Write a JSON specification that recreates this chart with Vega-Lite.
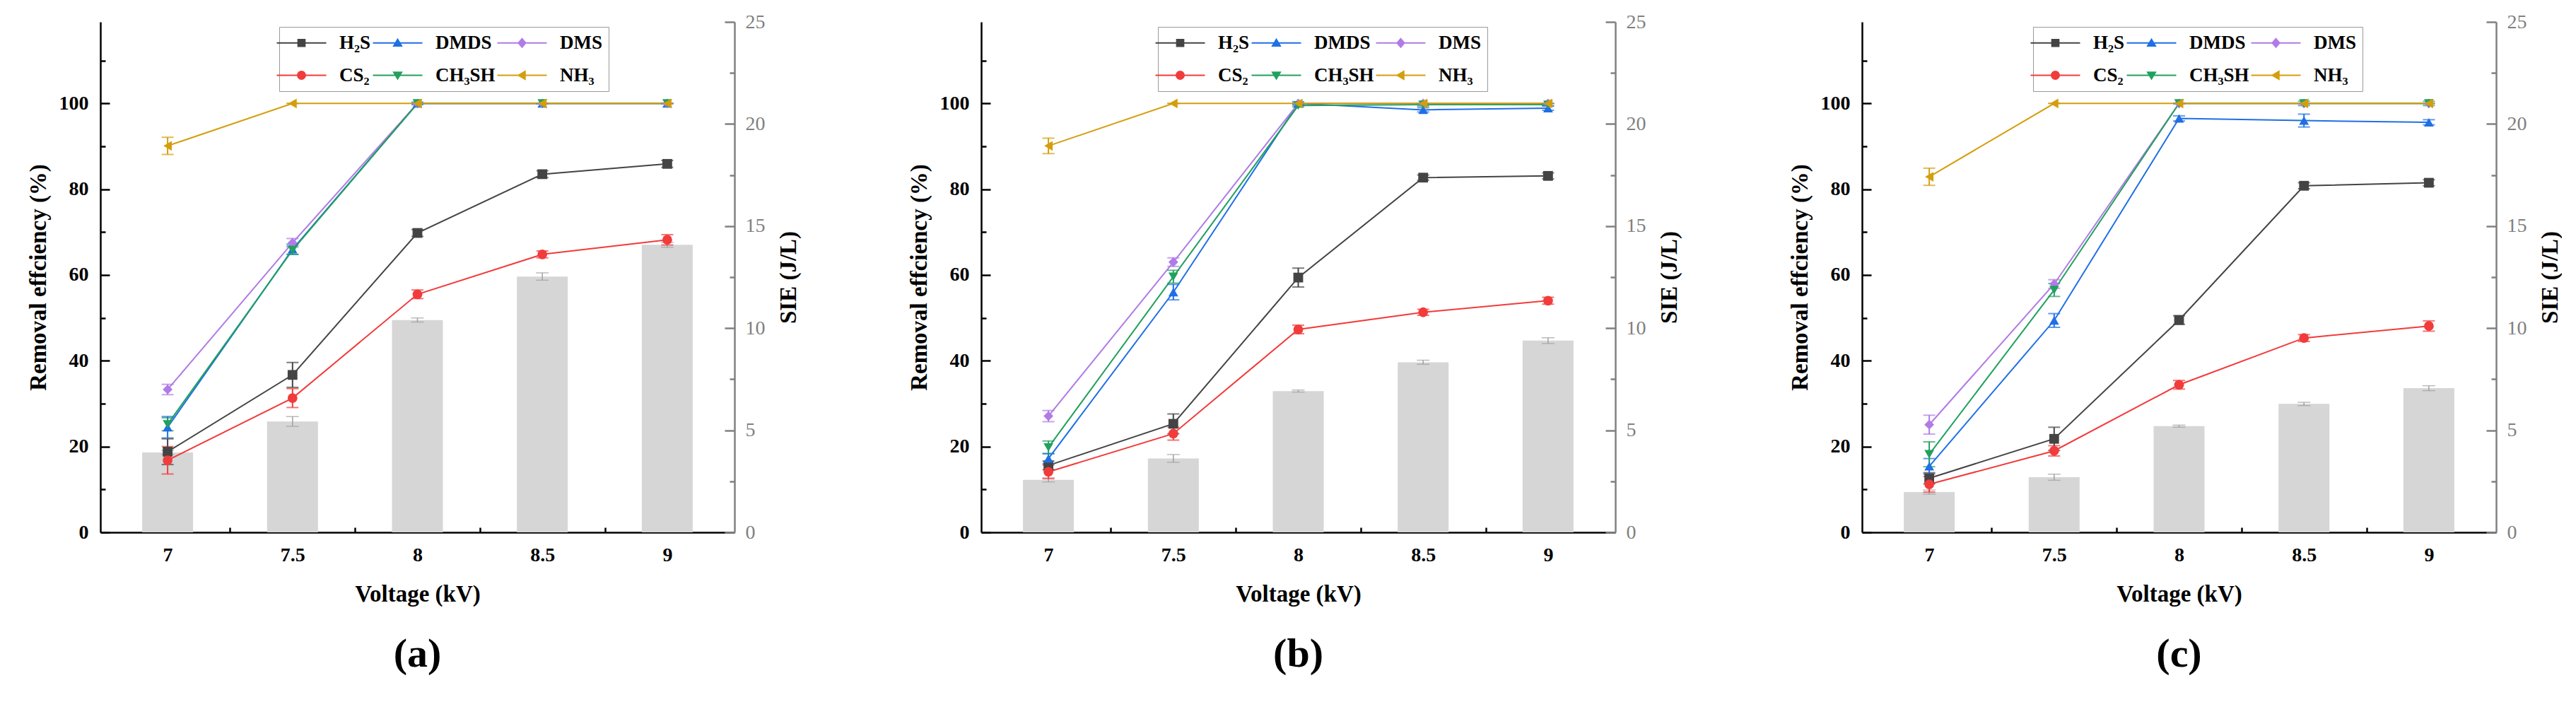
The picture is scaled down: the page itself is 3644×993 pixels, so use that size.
{
  "$schema": "https://vega.github.io/schema/vega-lite/v6.json",
  "background": "white",
  "padding": {"left": 38, "top": 17, "right": 0, "bottom": 0},
  "spacing": 152,
  "config": {
    "font": "Liberation Serif",
    "view": {"stroke": null},
    "axis": {"grid": false, "labelFont": "Liberation Serif", "titleFont": "Liberation Serif"},
    "style": {"guide-label": {"font": "Liberation Serif"}, "guide-title": {"font": "Liberation Serif"}}
  },
  "datasets": {
    "eff": [
      {"panel": "a", "series": "H₂S", "voltage": 7, "eff": 18.8, "err": 3.0},
      {"panel": "a", "series": "H₂S", "voltage": 7.5, "eff": 36.7, "err": 2.9},
      {"panel": "a", "series": "H₂S", "voltage": 8, "eff": 69.8, "err": 0.8},
      {"panel": "a", "series": "H₂S", "voltage": 8.5, "eff": 83.5, "err": 0.8},
      {"panel": "a", "series": "H₂S", "voltage": 9, "eff": 85.9, "err": 0.8},
      {"panel": "a", "series": "DMDS", "voltage": 7, "eff": 24.5, "err": 2.5},
      {"panel": "a", "series": "DMDS", "voltage": 7.5, "eff": 66.0, "err": 1.2},
      {"panel": "a", "series": "DMDS", "voltage": 8, "eff": 100, "err": 0.3},
      {"panel": "a", "series": "DMDS", "voltage": 8.5, "eff": 100, "err": 0},
      {"panel": "a", "series": "DMDS", "voltage": 9, "eff": 100, "err": 0},
      {"panel": "a", "series": "DMS", "voltage": 7, "eff": 33.3, "err": 1.2},
      {"panel": "a", "series": "DMS", "voltage": 7.5, "eff": 67.5, "err": 1.0},
      {"panel": "a", "series": "DMS", "voltage": 8, "eff": 100, "err": 0},
      {"panel": "a", "series": "DMS", "voltage": 8.5, "eff": 100, "err": 0},
      {"panel": "a", "series": "DMS", "voltage": 9, "eff": 100, "err": 0},
      {"panel": "a", "series": "CS₂", "voltage": 7, "eff": 16.8, "err": 3.2},
      {"panel": "a", "series": "CS₂", "voltage": 7.5, "eff": 31.3, "err": 2.2},
      {"panel": "a", "series": "CS₂", "voltage": 8, "eff": 55.5, "err": 1.0},
      {"panel": "a", "series": "CS₂", "voltage": 8.5, "eff": 64.8, "err": 0.8},
      {"panel": "a", "series": "CS₂", "voltage": 9, "eff": 68.2, "err": 1.2},
      {"panel": "a", "series": "CH₃SH", "voltage": 7, "eff": 25.2, "err": 1.5},
      {"panel": "a", "series": "CH₃SH", "voltage": 7.5, "eff": 65.8, "err": 1.0},
      {"panel": "a", "series": "CH₃SH", "voltage": 8, "eff": 100, "err": 0},
      {"panel": "a", "series": "CH₃SH", "voltage": 8.5, "eff": 100, "err": 0},
      {"panel": "a", "series": "CH₃SH", "voltage": 9, "eff": 100, "err": 0},
      {"panel": "a", "series": "NH₃", "voltage": 7, "eff": 90.1, "err": 2.0},
      {"panel": "a", "series": "NH₃", "voltage": 7.5, "eff": 100, "err": 0},
      {"panel": "a", "series": "NH₃", "voltage": 8, "eff": 100, "err": 0},
      {"panel": "a", "series": "NH₃", "voltage": 8.5, "eff": 100, "err": 0},
      {"panel": "a", "series": "NH₃", "voltage": 9, "eff": 100, "err": 0},

      {"panel": "b", "series": "H₂S", "voltage": 7, "eff": 15.6, "err": 1.0},
      {"panel": "b", "series": "H₂S", "voltage": 7.5, "eff": 25.3, "err": 2.3},
      {"panel": "b", "series": "H₂S", "voltage": 8, "eff": 59.4, "err": 2.2},
      {"panel": "b", "series": "H₂S", "voltage": 8.5, "eff": 82.7, "err": 0.6},
      {"panel": "b", "series": "H₂S", "voltage": 9, "eff": 83.1, "err": 0.7},
      {"panel": "b", "series": "DMDS", "voltage": 7, "eff": 17.2, "err": 1.2},
      {"panel": "b", "series": "DMDS", "voltage": 7.5, "eff": 56.0, "err": 1.8},
      {"panel": "b", "series": "DMDS", "voltage": 8, "eff": 100, "err": 0.4},
      {"panel": "b", "series": "DMDS", "voltage": 8.5, "eff": 98.5, "err": 0.5},
      {"panel": "b", "series": "DMDS", "voltage": 9, "eff": 98.9, "err": 0.5},
      {"panel": "b", "series": "DMS", "voltage": 7, "eff": 27.1, "err": 1.3},
      {"panel": "b", "series": "DMS", "voltage": 7.5, "eff": 63.0, "err": 1.0},
      {"panel": "b", "series": "DMS", "voltage": 8, "eff": 100, "err": 0},
      {"panel": "b", "series": "DMS", "voltage": 8.5, "eff": 100, "err": 0},
      {"panel": "b", "series": "DMS", "voltage": 9, "eff": 100, "err": 0},
      {"panel": "b", "series": "CS₂", "voltage": 7, "eff": 14.1, "err": 1.6},
      {"panel": "b", "series": "CS₂", "voltage": 7.5, "eff": 23.0, "err": 1.5},
      {"panel": "b", "series": "CS₂", "voltage": 8, "eff": 47.3, "err": 1.0},
      {"panel": "b", "series": "CS₂", "voltage": 8.5, "eff": 51.3, "err": 0.7},
      {"panel": "b", "series": "CS₂", "voltage": 9, "eff": 54.0, "err": 0.8},
      {"panel": "b", "series": "CH₃SH", "voltage": 7, "eff": 19.8, "err": 1.5},
      {"panel": "b", "series": "CH₃SH", "voltage": 7.5, "eff": 59.6, "err": 1.5},
      {"panel": "b", "series": "CH₃SH", "voltage": 8, "eff": 99.5, "err": 0.3},
      {"panel": "b", "series": "CH₃SH", "voltage": 8.5, "eff": 99.7, "err": 0.3},
      {"panel": "b", "series": "CH₃SH", "voltage": 9, "eff": 99.7, "err": 0.3},
      {"panel": "b", "series": "NH₃", "voltage": 7, "eff": 90.1, "err": 1.8},
      {"panel": "b", "series": "NH₃", "voltage": 7.5, "eff": 100, "err": 0},
      {"panel": "b", "series": "NH₃", "voltage": 8, "eff": 100, "err": 0},
      {"panel": "b", "series": "NH₃", "voltage": 8.5, "eff": 100, "err": 0},
      {"panel": "b", "series": "NH₃", "voltage": 9, "eff": 100, "err": 0},

      {"panel": "c", "series": "H₂S", "voltage": 7, "eff": 12.6, "err": 1.3},
      {"panel": "c", "series": "H₂S", "voltage": 7.5, "eff": 21.8, "err": 2.7},
      {"panel": "c", "series": "H₂S", "voltage": 8, "eff": 49.5, "err": 1.0},
      {"panel": "c", "series": "H₂S", "voltage": 8.5, "eff": 80.8, "err": 0.7},
      {"panel": "c", "series": "H₂S", "voltage": 9, "eff": 81.5, "err": 0.7},
      {"panel": "c", "series": "DMDS", "voltage": 7, "eff": 15.4, "err": 1.8},
      {"panel": "c", "series": "DMDS", "voltage": 7.5, "eff": 49.4, "err": 1.6},
      {"panel": "c", "series": "DMDS", "voltage": 8, "eff": 96.5, "err": 0.6},
      {"panel": "c", "series": "DMDS", "voltage": 8.5, "eff": 96.0, "err": 1.5},
      {"panel": "c", "series": "DMDS", "voltage": 9, "eff": 95.6, "err": 0.6},
      {"panel": "c", "series": "DMS", "voltage": 7, "eff": 25.1, "err": 2.2},
      {"panel": "c", "series": "DMS", "voltage": 7.5, "eff": 57.9, "err": 1.0},
      {"panel": "c", "series": "DMS", "voltage": 8, "eff": 100, "err": 0},
      {"panel": "c", "series": "DMS", "voltage": 8.5, "eff": 100, "err": 0},
      {"panel": "c", "series": "DMS", "voltage": 9, "eff": 100, "err": 0},
      {"panel": "c", "series": "CS₂", "voltage": 7, "eff": 11.2, "err": 1.8},
      {"panel": "c", "series": "CS₂", "voltage": 7.5, "eff": 19.0, "err": 1.2},
      {"panel": "c", "series": "CS₂", "voltage": 8, "eff": 34.4, "err": 1.0},
      {"panel": "c", "series": "CS₂", "voltage": 8.5, "eff": 45.3, "err": 0.8},
      {"panel": "c", "series": "CS₂", "voltage": 9, "eff": 48.1, "err": 1.2},
      {"panel": "c", "series": "CH₃SH", "voltage": 7, "eff": 18.2, "err": 2.9},
      {"panel": "c", "series": "CH₃SH", "voltage": 7.5, "eff": 56.5, "err": 1.5},
      {"panel": "c", "series": "CH₃SH", "voltage": 8, "eff": 100, "err": 0},
      {"panel": "c", "series": "CH₃SH", "voltage": 8.5, "eff": 100, "err": 0.5},
      {"panel": "c", "series": "CH₃SH", "voltage": 9, "eff": 100, "err": 0.5},
      {"panel": "c", "series": "NH₃", "voltage": 7, "eff": 82.9, "err": 2.0},
      {"panel": "c", "series": "NH₃", "voltage": 7.5, "eff": 100, "err": 0},
      {"panel": "c", "series": "NH₃", "voltage": 8, "eff": 100, "err": 0},
      {"panel": "c", "series": "NH₃", "voltage": 8.5, "eff": 100, "err": 0},
      {"panel": "c", "series": "NH₃", "voltage": 9, "eff": 100, "err": 0}
    ],
    "sie": [
      {"panel": "a", "voltage": 7, "sie": 3.91, "err": 0.1},
      {"panel": "a", "voltage": 7.5, "sie": 5.43, "err": 0.24},
      {"panel": "a", "voltage": 8, "sie": 10.4, "err": 0.1},
      {"panel": "a", "voltage": 8.5, "sie": 12.53, "err": 0.18},
      {"panel": "a", "voltage": 9, "sie": 14.08, "err": 0.12},
      {"panel": "b", "voltage": 7, "sie": 2.57, "err": 0.1},
      {"panel": "b", "voltage": 7.5, "sie": 3.62, "err": 0.19},
      {"panel": "b", "voltage": 8, "sie": 6.92, "err": 0.05},
      {"panel": "b", "voltage": 8.5, "sie": 8.33, "err": 0.1},
      {"panel": "b", "voltage": 9, "sie": 9.39, "err": 0.14},
      {"panel": "c", "voltage": 7, "sie": 1.97, "err": 0.1},
      {"panel": "c", "voltage": 7.5, "sie": 2.70, "err": 0.15},
      {"panel": "c", "voltage": 8, "sie": 5.2, "err": 0.05},
      {"panel": "c", "voltage": 8.5, "sie": 6.29, "err": 0.08},
      {"panel": "c", "voltage": 9, "sie": 7.06, "err": 0.12}
    ]
  },
  "resolve": {"scale": {"color": "independent", "shape": "independent"}},
  "hconcat": [
    {
      "width": 897, "height": 722,
      "title": {"text": "(a)", "orient": "bottom", "font": "Liberation Serif", "fontSize": 58, "fontWeight": "bold", "color": "black", "offset": 40},
      "layer": [
        {
          "data": {"name": "sie"},
          "transform": [{"filter": "datum.panel === 'a'"}],
          "layer": [
            {
              "mark": {"type": "bar", "color": "#d6d6d6", "width": 72},
              "encoding": {
                "x": {"field": "voltage", "type": "quantitative", "scale": {"domain": [6.745, 9.255], "nice": false, "zero": false}, "axis": {"orient": "top", "labels": false, "ticks": false, "title": null, "domainColor": "black", "domainWidth": 2.5}},
                "y": {"field": "sie", "type": "quantitative", "scale": {"domain": [0, 25], "nice": false}, "axis": {"orient": "right", "values": [0, 5, 10, 15, 20, 25], "tickSize": -14, "tickWidth": 2.5, "tickColor": "#808080", "domainColor": "#808080", "domainWidth": 2.5, "labelFont": "Liberation Serif", "labelColor": "#808080", "labelFontSize": 28, "labelFontWeight": "normal", "labelPadding": 29, "title": "SIE (J/L)", "titleFont": "Liberation Serif", "titleAngle": 270, "titleBaseline": "top", "titleFontSize": 33, "titleFontWeight": "bold", "titleColor": "black", "titlePadding": 17}}
              }
            },
            {
              "mark": {"type": "errorbar", "color": "#a0a0a0", "ticks": {"size": 18}, "thickness": 1.5},
              "encoding": {
                "x": {"field": "voltage", "type": "quantitative", "scale": {"domain": [6.745, 9.255], "nice": false, "zero": false}, "axis": null},
                "y": {"field": "sie", "type": "quantitative", "scale": {"domain": [0, 25], "nice": false}, "axis": {"orient": "right", "values": [2.5, 7.5, 12.5, 17.5, 22.5], "tickSize": -7, "tickWidth": 2.5, "tickColor": "#808080", "domain": false, "labels": false, "title": null}},
                "yError": {"field": "err"}
              }
            }
          ],
          "resolve": {"axis": {"y": "independent"}}
        },
        {
          "data": {"name": "eff"},
          "transform": [{"filter": "datum.panel === 'a'"}],
          "layer": [
            {
              "mark": {"type": "line", "strokeWidth": 2},
              "encoding": {
                "x": {"field": "voltage", "type": "quantitative", "scale": {"domain": [6.745, 9.255], "nice": false, "zero": false}, "axis": {"orient": "bottom", "values": [7, 7.5, 8, 8.5, 9], "format": "~g", "tickSize": -13, "tickWidth": 2.5, "tickColor": "black", "domainColor": "black", "domainWidth": 2.5, "labelFont": "Liberation Serif", "labelColor": "black", "labelFontSize": 28, "labelFontWeight": "bold", "labelPadding": 31, "title": "Voltage (kV)", "titleFont": "Liberation Serif", "titleFontSize": 33, "titleFontWeight": "bold", "titleColor": "black", "titlePadding": 25}},
                "y": {"field": "eff", "type": "quantitative", "scale": {"domain": [0, 119], "nice": false}, "axis": {"orient": "left", "values": [0, 20, 40, 60, 80, 100], "tickSize": -13, "tickWidth": 2.5, "tickColor": "black", "domainColor": "black", "domainWidth": 2.5, "labelFont": "Liberation Serif", "labelColor": "black", "labelFontSize": 28, "labelFontWeight": "bold", "labelPadding": 30, "title": "Removal effciency (%)", "titleFont": "Liberation Serif", "titleFontSize": 33, "titleFontWeight": "bold", "titleColor": "black", "titlePadding": 12}},
                "color": {"field": "series", "type": "nominal", "scale": {"domain": ["H₂S", "DMDS", "DMS", "CS₂", "CH₃SH", "NH₃"], "range": ["#444444", "#1f6fe5", "#b07be6", "#f23b3b", "#22a05e", "#d49e0c"]}, "legend": null}
              }
            },
            {
              "mark": {"type": "errorbar", "ticks": {"size": 17}, "thickness": 2},
              "encoding": {
                "x": {"field": "voltage", "type": "quantitative", "scale": {"domain": [6.745, 9.255], "nice": false, "zero": false}, "axis": null},
                "y": {"field": "eff", "type": "quantitative", "scale": {"domain": [0, 119], "nice": false}, "axis": null},
                "yError": {"field": "err"},
                "color": {"field": "series", "type": "nominal", "scale": {"domain": ["H₂S", "DMDS", "DMS", "CS₂", "CH₃SH", "NH₃"], "range": ["#444444", "#1f6fe5", "#b07be6", "#f23b3b", "#22a05e", "#d49e0c"]}, "legend": null}
              }
            },
            {
              "mark": {"type": "point", "filled": true, "size": 190, "opacity": 1},
              "encoding": {
                "x": {"field": "voltage", "type": "quantitative", "scale": {"domain": [6.745, 9.255], "nice": false, "zero": false}, "axis": {"orient": "bottom", "values": [7.25, 7.75, 8.25, 8.75], "tickSize": -7, "tickWidth": 2.5, "tickColor": "black", "domain": false, "labels": false, "title": null}},
                "y": {"field": "eff", "type": "quantitative", "scale": {"domain": [0, 119], "nice": false}, "axis": {"orient": "left", "values": [10, 30, 50, 70, 90, 110], "tickSize": -7, "tickWidth": 2.5, "tickColor": "black", "domain": false, "labels": false, "title": null}},
                "color": {"field": "series", "type": "nominal", "scale": {"domain": ["H₂S", "DMDS", "DMS", "CS₂", "CH₃SH", "NH₃"], "range": ["#444444", "#1f6fe5", "#b07be6", "#f23b3b", "#22a05e", "#d49e0c"]}, "legend": null},
                "shape": {"field": "series", "type": "nominal", "scale": {"domain": ["H₂S", "DMDS", "DMS", "CS₂", "CH₃SH", "NH₃"], "range": ["square", "triangle-up", "diamond", "circle", "triangle-down", "triangle-left"]}, "legend": null}
              }
            },
            {
              "mark": {"type": "point", "filled": true, "opacity": 0},
              "encoding": {
                "x": {"field": "voltage", "type": "quantitative", "scale": {"domain": [6.745, 9.255], "nice": false, "zero": false}, "axis": null},
                "y": {"field": "eff", "type": "quantitative", "scale": {"domain": [0, 119], "nice": false}, "axis": null},
                "color": {"field": "series", "type": "nominal", "scale": {"domain": ["H₂S", "DMDS", "DMS", "CS₂", "CH₃SH", "NH₃"], "range": ["#444444", "#1f6fe5", "#b07be6", "#f23b3b", "#22a05e", "#d49e0c"]}, "legend": {"title": null, "orient": "none", "legendX": 253, "legendY": 7, "direction": "horizontal", "columns": 3, "gridAlign": "each", "strokeColor": "#9a9a9a", "fillColor": "white", "padding": 9, "labelFont": "Liberation Serif", "labelFontSize": 27, "labelFontWeight": "bold", "labelColor": "black", "symbolSize": 544, "symbolOffset": 9, "labelOffset": 40, "columnPadding": 2, "rowPadding": 18, "symbolStrokeWidth": 0, "symbolOpacity": 1, "labelLimit": 400}},
                "shape": {"field": "series", "type": "nominal", "scale": {"domain": ["H₂S", "DMDS", "DMS", "CS₂", "CH₃SH", "NH₃"], "range": [
                  "M-3,-0.09H3V0.09H-3Z M-0.5,-0.5H0.5V0.5H-0.5Z",
                  "M-3,-0.09H3V0.09H-3Z M0,-0.6L0.62,0.45H-0.62Z",
                  "M-3,-0.09H3V0.09H-3Z M0,-0.65L0.55,0L0,0.65L-0.55,0Z",
                  "M-3,-0.09H3V0.09H-3Z M-0.55,0A0.55,0.55 0 1,1 0.55,0A0.55,0.55 0 1,1 -0.55,0Z",
                  "M-3,-0.09H3V0.09H-3Z M0,0.6L-0.62,-0.45H0.62Z",
                  "M-3,-0.09H3V0.09H-3Z M-0.6,0L0.45,-0.62V0.62Z"
                ]}, "legend": {"title": null, "orient": "none", "legendX": 253, "legendY": 7, "direction": "horizontal", "columns": 3, "gridAlign": "each", "strokeColor": "#9a9a9a", "fillColor": "white", "padding": 9, "labelFont": "Liberation Serif", "labelFontSize": 27, "labelFontWeight": "bold", "labelColor": "black", "symbolSize": 544, "symbolOffset": 9, "labelOffset": 40, "columnPadding": 2, "rowPadding": 18, "symbolStrokeWidth": 0, "symbolOpacity": 1, "labelLimit": 400}}
              }
            }
          ],
          "resolve": {"scale": {"color": "independent", "shape": "independent"}, "axis": {"x": "independent", "y": "independent"}}
        }
      ],
      "resolve": {"scale": {"y": "independent"}, "axis": {"x": "independent"}}
    },
    {
      "width": 897, "height": 722,
      "title": {"text": "(b)", "orient": "bottom", "font": "Liberation Serif", "fontSize": 58, "fontWeight": "bold", "color": "black", "offset": 40},
      "layer": [
        {
          "data": {"name": "sie"},
          "transform": [{"filter": "datum.panel === 'b'"}],
          "layer": [
            {
              "mark": {"type": "bar", "color": "#d6d6d6", "width": 72},
              "encoding": {
                "x": {"field": "voltage", "type": "quantitative", "scale": {"domain": [6.745, 9.255], "nice": false, "zero": false}, "axis": {"orient": "top", "labels": false, "ticks": false, "title": null, "domainColor": "black", "domainWidth": 2.5}},
                "y": {"field": "sie", "type": "quantitative", "scale": {"domain": [0, 25], "nice": false}, "axis": {"orient": "right", "values": [0, 5, 10, 15, 20, 25], "tickSize": -14, "tickWidth": 2.5, "tickColor": "#808080", "domainColor": "#808080", "domainWidth": 2.5, "labelFont": "Liberation Serif", "labelColor": "#808080", "labelFontSize": 28, "labelFontWeight": "normal", "labelPadding": 29, "title": "SIE (J/L)", "titleFont": "Liberation Serif", "titleAngle": 270, "titleBaseline": "top", "titleFontSize": 33, "titleFontWeight": "bold", "titleColor": "black", "titlePadding": 17}}
              }
            },
            {
              "mark": {"type": "errorbar", "color": "#a0a0a0", "ticks": {"size": 18}, "thickness": 1.5},
              "encoding": {
                "x": {"field": "voltage", "type": "quantitative", "scale": {"domain": [6.745, 9.255], "nice": false, "zero": false}, "axis": null},
                "y": {"field": "sie", "type": "quantitative", "scale": {"domain": [0, 25], "nice": false}, "axis": {"orient": "right", "values": [2.5, 7.5, 12.5, 17.5, 22.5], "tickSize": -7, "tickWidth": 2.5, "tickColor": "#808080", "domain": false, "labels": false, "title": null}},
                "yError": {"field": "err"}
              }
            }
          ],
          "resolve": {"axis": {"y": "independent"}}
        },
        {
          "data": {"name": "eff"},
          "transform": [{"filter": "datum.panel === 'b'"}],
          "layer": [
            {
              "mark": {"type": "line", "strokeWidth": 2},
              "encoding": {
                "x": {"field": "voltage", "type": "quantitative", "scale": {"domain": [6.745, 9.255], "nice": false, "zero": false}, "axis": {"orient": "bottom", "values": [7, 7.5, 8, 8.5, 9], "format": "~g", "tickSize": -13, "tickWidth": 2.5, "tickColor": "black", "domainColor": "black", "domainWidth": 2.5, "labelFont": "Liberation Serif", "labelColor": "black", "labelFontSize": 28, "labelFontWeight": "bold", "labelPadding": 31, "title": "Voltage (kV)", "titleFont": "Liberation Serif", "titleFontSize": 33, "titleFontWeight": "bold", "titleColor": "black", "titlePadding": 25}},
                "y": {"field": "eff", "type": "quantitative", "scale": {"domain": [0, 119], "nice": false}, "axis": {"orient": "left", "values": [0, 20, 40, 60, 80, 100], "tickSize": -13, "tickWidth": 2.5, "tickColor": "black", "domainColor": "black", "domainWidth": 2.5, "labelFont": "Liberation Serif", "labelColor": "black", "labelFontSize": 28, "labelFontWeight": "bold", "labelPadding": 30, "title": "Removal effciency (%)", "titleFont": "Liberation Serif", "titleFontSize": 33, "titleFontWeight": "bold", "titleColor": "black", "titlePadding": 12}},
                "color": {"field": "series", "type": "nominal", "scale": {"domain": ["H₂S", "DMDS", "DMS", "CS₂", "CH₃SH", "NH₃"], "range": ["#444444", "#1f6fe5", "#b07be6", "#f23b3b", "#22a05e", "#d49e0c"]}, "legend": null}
              }
            },
            {
              "mark": {"type": "errorbar", "ticks": {"size": 17}, "thickness": 2},
              "encoding": {
                "x": {"field": "voltage", "type": "quantitative", "scale": {"domain": [6.745, 9.255], "nice": false, "zero": false}, "axis": null},
                "y": {"field": "eff", "type": "quantitative", "scale": {"domain": [0, 119], "nice": false}, "axis": null},
                "yError": {"field": "err"},
                "color": {"field": "series", "type": "nominal", "scale": {"domain": ["H₂S", "DMDS", "DMS", "CS₂", "CH₃SH", "NH₃"], "range": ["#444444", "#1f6fe5", "#b07be6", "#f23b3b", "#22a05e", "#d49e0c"]}, "legend": null}
              }
            },
            {
              "mark": {"type": "point", "filled": true, "size": 190, "opacity": 1},
              "encoding": {
                "x": {"field": "voltage", "type": "quantitative", "scale": {"domain": [6.745, 9.255], "nice": false, "zero": false}, "axis": {"orient": "bottom", "values": [7.25, 7.75, 8.25, 8.75], "tickSize": -7, "tickWidth": 2.5, "tickColor": "black", "domain": false, "labels": false, "title": null}},
                "y": {"field": "eff", "type": "quantitative", "scale": {"domain": [0, 119], "nice": false}, "axis": {"orient": "left", "values": [10, 30, 50, 70, 90, 110], "tickSize": -7, "tickWidth": 2.5, "tickColor": "black", "domain": false, "labels": false, "title": null}},
                "color": {"field": "series", "type": "nominal", "scale": {"domain": ["H₂S", "DMDS", "DMS", "CS₂", "CH₃SH", "NH₃"], "range": ["#444444", "#1f6fe5", "#b07be6", "#f23b3b", "#22a05e", "#d49e0c"]}, "legend": null},
                "shape": {"field": "series", "type": "nominal", "scale": {"domain": ["H₂S", "DMDS", "DMS", "CS₂", "CH₃SH", "NH₃"], "range": ["square", "triangle-up", "diamond", "circle", "triangle-down", "triangle-left"]}, "legend": null}
              }
            },
            {
              "mark": {"type": "point", "filled": true, "opacity": 0},
              "encoding": {
                "x": {"field": "voltage", "type": "quantitative", "scale": {"domain": [6.745, 9.255], "nice": false, "zero": false}, "axis": null},
                "y": {"field": "eff", "type": "quantitative", "scale": {"domain": [0, 119], "nice": false}, "axis": null},
                "color": {"field": "series", "type": "nominal", "scale": {"domain": ["H₂S", "DMDS", "DMS", "CS₂", "CH₃SH", "NH₃"], "range": ["#444444", "#1f6fe5", "#b07be6", "#f23b3b", "#22a05e", "#d49e0c"]}, "legend": {"title": null, "orient": "none", "legendX": 250, "legendY": 7, "direction": "horizontal", "columns": 3, "gridAlign": "each", "strokeColor": "#9a9a9a", "fillColor": "white", "padding": 9, "labelFont": "Liberation Serif", "labelFontSize": 27, "labelFontWeight": "bold", "labelColor": "black", "symbolSize": 544, "symbolOffset": 9, "labelOffset": 40, "columnPadding": 2, "rowPadding": 18, "symbolStrokeWidth": 0, "symbolOpacity": 1, "labelLimit": 400}},
                "shape": {"field": "series", "type": "nominal", "scale": {"domain": ["H₂S", "DMDS", "DMS", "CS₂", "CH₃SH", "NH₃"], "range": [
                  "M-3,-0.09H3V0.09H-3Z M-0.5,-0.5H0.5V0.5H-0.5Z",
                  "M-3,-0.09H3V0.09H-3Z M0,-0.6L0.62,0.45H-0.62Z",
                  "M-3,-0.09H3V0.09H-3Z M0,-0.65L0.55,0L0,0.65L-0.55,0Z",
                  "M-3,-0.09H3V0.09H-3Z M-0.55,0A0.55,0.55 0 1,1 0.55,0A0.55,0.55 0 1,1 -0.55,0Z",
                  "M-3,-0.09H3V0.09H-3Z M0,0.6L-0.62,-0.45H0.62Z",
                  "M-3,-0.09H3V0.09H-3Z M-0.6,0L0.45,-0.62V0.62Z"
                ]}, "legend": {"title": null, "orient": "none", "legendX": 250, "legendY": 7, "direction": "horizontal", "columns": 3, "gridAlign": "each", "strokeColor": "#9a9a9a", "fillColor": "white", "padding": 9, "labelFont": "Liberation Serif", "labelFontSize": 27, "labelFontWeight": "bold", "labelColor": "black", "symbolSize": 544, "symbolOffset": 9, "labelOffset": 40, "columnPadding": 2, "rowPadding": 18, "symbolStrokeWidth": 0, "symbolOpacity": 1, "labelLimit": 400}}
              }
            }
          ],
          "resolve": {"scale": {"color": "independent", "shape": "independent"}, "axis": {"x": "independent", "y": "independent"}}
        }
      ],
      "resolve": {"scale": {"y": "independent"}, "axis": {"x": "independent"}}
    },
    {
      "width": 897, "height": 722,
      "title": {"text": "(c)", "orient": "bottom", "font": "Liberation Serif", "fontSize": 58, "fontWeight": "bold", "color": "black", "offset": 40},
      "layer": [
        {
          "data": {"name": "sie"},
          "transform": [{"filter": "datum.panel === 'c'"}],
          "layer": [
            {
              "mark": {"type": "bar", "color": "#d6d6d6", "width": 72},
              "encoding": {
                "x": {"field": "voltage", "type": "quantitative", "scale": {"domain": [6.745, 9.255], "nice": false, "zero": false}, "axis": {"orient": "top", "labels": false, "ticks": false, "title": null, "domainColor": "black", "domainWidth": 2.5}},
                "y": {"field": "sie", "type": "quantitative", "scale": {"domain": [0, 25], "nice": false}, "axis": {"orient": "right", "values": [0, 5, 10, 15, 20, 25], "tickSize": -14, "tickWidth": 2.5, "tickColor": "#808080", "domainColor": "#808080", "domainWidth": 2.5, "labelFont": "Liberation Serif", "labelColor": "#808080", "labelFontSize": 28, "labelFontWeight": "normal", "labelPadding": 29, "title": "SIE (J/L)", "titleFont": "Liberation Serif", "titleAngle": 270, "titleBaseline": "top", "titleFontSize": 33, "titleFontWeight": "bold", "titleColor": "black", "titlePadding": 17}}
              }
            },
            {
              "mark": {"type": "errorbar", "color": "#a0a0a0", "ticks": {"size": 18}, "thickness": 1.5},
              "encoding": {
                "x": {"field": "voltage", "type": "quantitative", "scale": {"domain": [6.745, 9.255], "nice": false, "zero": false}, "axis": null},
                "y": {"field": "sie", "type": "quantitative", "scale": {"domain": [0, 25], "nice": false}, "axis": {"orient": "right", "values": [2.5, 7.5, 12.5, 17.5, 22.5], "tickSize": -7, "tickWidth": 2.5, "tickColor": "#808080", "domain": false, "labels": false, "title": null}},
                "yError": {"field": "err"}
              }
            }
          ],
          "resolve": {"axis": {"y": "independent"}}
        },
        {
          "data": {"name": "eff"},
          "transform": [{"filter": "datum.panel === 'c'"}],
          "layer": [
            {
              "mark": {"type": "line", "strokeWidth": 2},
              "encoding": {
                "x": {"field": "voltage", "type": "quantitative", "scale": {"domain": [6.745, 9.255], "nice": false, "zero": false}, "axis": {"orient": "bottom", "values": [7, 7.5, 8, 8.5, 9], "format": "~g", "tickSize": -13, "tickWidth": 2.5, "tickColor": "black", "domainColor": "black", "domainWidth": 2.5, "labelFont": "Liberation Serif", "labelColor": "black", "labelFontSize": 28, "labelFontWeight": "bold", "labelPadding": 31, "title": "Voltage (kV)", "titleFont": "Liberation Serif", "titleFontSize": 33, "titleFontWeight": "bold", "titleColor": "black", "titlePadding": 25}},
                "y": {"field": "eff", "type": "quantitative", "scale": {"domain": [0, 119], "nice": false}, "axis": {"orient": "left", "values": [0, 20, 40, 60, 80, 100], "tickSize": -13, "tickWidth": 2.5, "tickColor": "black", "domainColor": "black", "domainWidth": 2.5, "labelFont": "Liberation Serif", "labelColor": "black", "labelFontSize": 28, "labelFontWeight": "bold", "labelPadding": 30, "title": "Removal effciency (%)", "titleFont": "Liberation Serif", "titleFontSize": 33, "titleFontWeight": "bold", "titleColor": "black", "titlePadding": 12}},
                "color": {"field": "series", "type": "nominal", "scale": {"domain": ["H₂S", "DMDS", "DMS", "CS₂", "CH₃SH", "NH₃"], "range": ["#444444", "#1f6fe5", "#b07be6", "#f23b3b", "#22a05e", "#d49e0c"]}, "legend": null}
              }
            },
            {
              "mark": {"type": "errorbar", "ticks": {"size": 17}, "thickness": 2},
              "encoding": {
                "x": {"field": "voltage", "type": "quantitative", "scale": {"domain": [6.745, 9.255], "nice": false, "zero": false}, "axis": null},
                "y": {"field": "eff", "type": "quantitative", "scale": {"domain": [0, 119], "nice": false}, "axis": null},
                "yError": {"field": "err"},
                "color": {"field": "series", "type": "nominal", "scale": {"domain": ["H₂S", "DMDS", "DMS", "CS₂", "CH₃SH", "NH₃"], "range": ["#444444", "#1f6fe5", "#b07be6", "#f23b3b", "#22a05e", "#d49e0c"]}, "legend": null}
              }
            },
            {
              "mark": {"type": "point", "filled": true, "size": 190, "opacity": 1},
              "encoding": {
                "x": {"field": "voltage", "type": "quantitative", "scale": {"domain": [6.745, 9.255], "nice": false, "zero": false}, "axis": {"orient": "bottom", "values": [7.25, 7.75, 8.25, 8.75], "tickSize": -7, "tickWidth": 2.5, "tickColor": "black", "domain": false, "labels": false, "title": null}},
                "y": {"field": "eff", "type": "quantitative", "scale": {"domain": [0, 119], "nice": false}, "axis": {"orient": "left", "values": [10, 30, 50, 70, 90, 110], "tickSize": -7, "tickWidth": 2.5, "tickColor": "black", "domain": false, "labels": false, "title": null}},
                "color": {"field": "series", "type": "nominal", "scale": {"domain": ["H₂S", "DMDS", "DMS", "CS₂", "CH₃SH", "NH₃"], "range": ["#444444", "#1f6fe5", "#b07be6", "#f23b3b", "#22a05e", "#d49e0c"]}, "legend": null},
                "shape": {"field": "series", "type": "nominal", "scale": {"domain": ["H₂S", "DMDS", "DMS", "CS₂", "CH₃SH", "NH₃"], "range": ["square", "triangle-up", "diamond", "circle", "triangle-down", "triangle-left"]}, "legend": null}
              }
            },
            {
              "mark": {"type": "point", "filled": true, "opacity": 0},
              "encoding": {
                "x": {"field": "voltage", "type": "quantitative", "scale": {"domain": [6.745, 9.255], "nice": false, "zero": false}, "axis": null},
                "y": {"field": "eff", "type": "quantitative", "scale": {"domain": [0, 119], "nice": false}, "axis": null},
                "color": {"field": "series", "type": "nominal", "scale": {"domain": ["H₂S", "DMDS", "DMS", "CS₂", "CH₃SH", "NH₃"], "range": ["#444444", "#1f6fe5", "#b07be6", "#f23b3b", "#22a05e", "#d49e0c"]}, "legend": {"title": null, "orient": "none", "legendX": 242, "legendY": 7, "direction": "horizontal", "columns": 3, "gridAlign": "each", "strokeColor": "#9a9a9a", "fillColor": "white", "padding": 9, "labelFont": "Liberation Serif", "labelFontSize": 27, "labelFontWeight": "bold", "labelColor": "black", "symbolSize": 544, "symbolOffset": 9, "labelOffset": 40, "columnPadding": 2, "rowPadding": 18, "symbolStrokeWidth": 0, "symbolOpacity": 1, "labelLimit": 400}},
                "shape": {"field": "series", "type": "nominal", "scale": {"domain": ["H₂S", "DMDS", "DMS", "CS₂", "CH₃SH", "NH₃"], "range": [
                  "M-3,-0.09H3V0.09H-3Z M-0.5,-0.5H0.5V0.5H-0.5Z",
                  "M-3,-0.09H3V0.09H-3Z M0,-0.6L0.62,0.45H-0.62Z",
                  "M-3,-0.09H3V0.09H-3Z M0,-0.65L0.55,0L0,0.65L-0.55,0Z",
                  "M-3,-0.09H3V0.09H-3Z M-0.55,0A0.55,0.55 0 1,1 0.55,0A0.55,0.55 0 1,1 -0.55,0Z",
                  "M-3,-0.09H3V0.09H-3Z M0,0.6L-0.62,-0.45H0.62Z",
                  "M-3,-0.09H3V0.09H-3Z M-0.6,0L0.45,-0.62V0.62Z"
                ]}, "legend": {"title": null, "orient": "none", "legendX": 242, "legendY": 7, "direction": "horizontal", "columns": 3, "gridAlign": "each", "strokeColor": "#9a9a9a", "fillColor": "white", "padding": 9, "labelFont": "Liberation Serif", "labelFontSize": 27, "labelFontWeight": "bold", "labelColor": "black", "symbolSize": 544, "symbolOffset": 9, "labelOffset": 40, "columnPadding": 2, "rowPadding": 18, "symbolStrokeWidth": 0, "symbolOpacity": 1, "labelLimit": 400}}
              }
            }
          ],
          "resolve": {"scale": {"color": "independent", "shape": "independent"}, "axis": {"x": "independent", "y": "independent"}}
        }
      ],
      "resolve": {"scale": {"y": "independent"}, "axis": {"x": "independent"}}
    }
  ]
}
